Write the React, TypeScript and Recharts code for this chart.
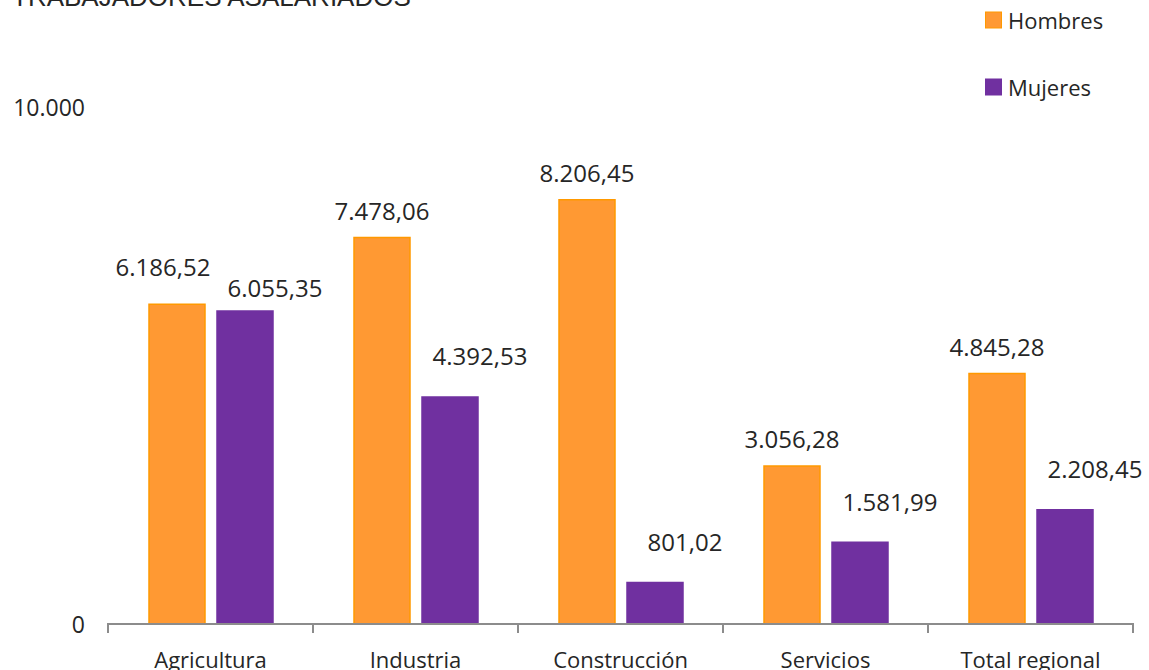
import React from "react";
import { BarChart, Bar, XAxis, YAxis, LabelList } from "recharts";

const categories = ["Agricultura", "Industria", "Construcción", "Servicios", "Total regional"];
const hombres = [6186.52, 7478.06, 8206.45, 3056.28, 4845.28];
const mujeres = [6055.35, 4392.53, 801.02, 1581.99, 2208.45];
const yTicks = [0, 10000];
const seriesNames = ["Hombres", "Mujeres"];
const title = "TRABAJADORES ASALARIADOS";

const data = categories.map((c, i) => ({ name: c, Hombres: hombres[i], Mujeres: mujeres[i] }));

const W = 1149;
const H = 670;
const M = { top: 107, right: 16, bottom: 0, left: 0 };
const X_H = 46;
const Y_W = 108;
const LABEL_FONT = "'Open Sans', sans-serif";
const ORANGE = "#FF9933";
const ORANGE_EDGE = "#FF9900";
const PURPLE = "#7030A0";
const PURPLE_EDGE = "#7030A0";

function fmtEs(v: number): string {
  const [int, dec] = v.toFixed(2).split(".");
  const withDots = int.replace(/\B(?=(\d{3})+(?!\d))/g, ".");
  return withDots + "," + dec;
}
function fmtTick(v: number): string {
  return String(Math.round(v)).replace(/\B(?=(\d{3})+(?!\d))/g, ".");
}

// when both bars of a category are nearly equal, labels are spread apart (as in the original)
const isCrowded = (i: number) => Math.abs(hombres[i] - mujeres[i]) < 500;

const makeLabel = (series: "h" | "m") => (props: any) => {
  const { x, y, width, value, index } = props;
  const crowded = isCrowded(Number(index));
  let dx: number;
  let gap: number;
  if (series === "h") {
    dx = crowded ? -14 : 0;
    gap = crowded ? 38 : 27;
  } else {
    dx = 30;
    gap = crowded ? 23 : 41;
  }
  return (
    <text
      x={Number(x) + Number(width) / 2 + dx}
      y={Number(y) - gap}
      textAnchor="middle"
      dominantBaseline="central"
      fontFamily={LABEL_FONT}
      fontSize={24}
      fill="#262626"
    >
      {fmtEs(Number(value))}
    </text>
  );
};

const bandWidth = (W - Y_W - M.left - M.right) / categories.length;

const XTick = (props: any) => {
  const { x, y, payload, index } = props;
  const left = x - bandWidth / 2;
  const right = x + bandWidth / 2;
  const top = y - 8;
  return (
    <g>
      <line x1={left} y1={top - 1} x2={left} y2={top + 9} stroke="#8c8c8c" strokeWidth={2} />
      {index === categories.length - 1 && (
        <line x1={right} y1={top - 1} x2={right} y2={top + 9} stroke="#8c8c8c" strokeWidth={2} />
      )}
      <text
        x={x}
        y={top + 35}
        textAnchor="middle"
        dominantBaseline="central"
        fontFamily={LABEL_FONT}
        fontSize={22}
        fill="#262626"
      >
        {payload.value}
      </text>
    </g>
  );
};

const YTick = (props: any) => {
  const { y, payload } = props;
  return (
    <text
      x={85}
      y={y}
      textAnchor="end"
      dominantBaseline="central"
      fontFamily={LABEL_FONT}
      fontSize={23}
      fill="#262626"
    >
      {fmtTick(payload.value)}
    </text>
  );
};

const LegendBox = () => {
  const colors = [ORANGE, PURPLE];
  const edges = [ORANGE_EDGE, PURPLE_EDGE];
  return (
    <svg width={160} height={110} style={{ position: "absolute", left: 984, top: 0, pointerEvents: "none" }}>
      {seriesNames.map((n, i) => (
        <g key={n}>
          <rect x={1.5} y={12 + i * 67} width={16} height={16} fill={colors[i]} stroke={edges[i]} strokeWidth={1} />
          <text
            x={24}
            y={20 + i * 67}
            dominantBaseline="central"
            fontFamily={LABEL_FONT}
            fontSize={22}
            fill="#262626"
          >
            {n}
          </text>
        </g>
      ))}
    </svg>
  );
};

export default function App() {
  return (
    <div style={{ position: "absolute", left: 0, top: 0, width: W, height: H, background: "#fff" }}>
      <BarChart
        width={W}
        height={H}
        data={data}
        margin={M}
        barCategoryGap="20%"
        barGap={12}
      >
        <XAxis
          dataKey="name"
          axisLine={{ stroke: "#8c8c8c", strokeWidth: 2 }}
          tickLine={false}
          tick={<XTick />}
          interval={0}
          height={X_H}
        />
        <YAxis
          domain={[0, 10000]}
          ticks={yTicks}
          axisLine={false}
          tickLine={false}
          width={Y_W}
          tick={<YTick />}
          allowDataOverflow
        />
        <Bar dataKey="Hombres" fill={ORANGE} stroke={ORANGE_EDGE} strokeWidth={1.5} isAnimationActive={false}>
          <LabelList dataKey="Hombres" content={makeLabel("h")} />
        </Bar>
        <Bar dataKey="Mujeres" fill={PURPLE} stroke={PURPLE_EDGE} strokeWidth={1.5} isAnimationActive={false}>
          <LabelList dataKey="Mujeres" content={makeLabel("m")} />
        </Bar>
      </BarChart>
      <LegendBox />
      <svg
        width={W}
        height={40}
        style={{ position: "absolute", left: 0, top: 0, pointerEvents: "none" }}
      >
        <text x={12} y={6} fontFamily="'Liberation Sans', Arial, sans-serif" fontSize={26} fill="#262626">
          {title}
        </text>
      </svg>
    </div>
  );
}
